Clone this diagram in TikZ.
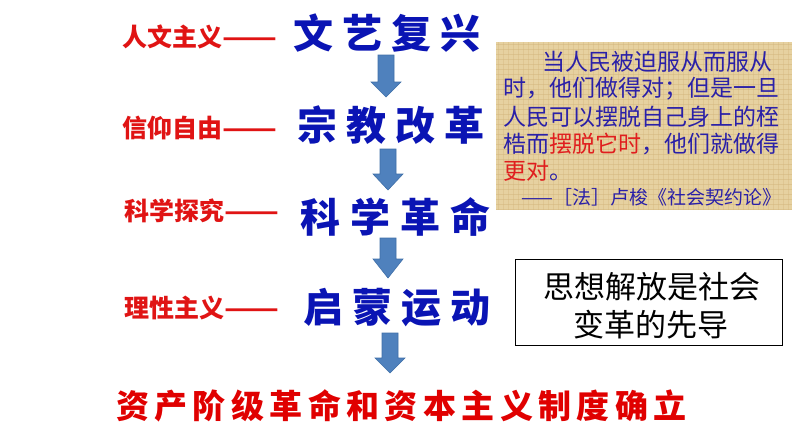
\documentclass[tikz,border=0pt]{standalone}
\usepackage{fontspec}
\usetikzlibrary{calc}
\newfontfamily\cjk{Noto Sans CJK SC}
\definecolor{titleblue}{HTML}{0A14B4}
\definecolor{labelred}{HTML}{E01414}
\definecolor{arrowblue}{HTML}{4F81BD}
\definecolor{arrowedge}{HTML}{3F6FA8}
\definecolor{quoteblue}{HTML}{2A20A8}
\definecolor{quotered}{HTML}{E01E1E}
\definecolor{parch}{HTML}{E6D1A0}
\definecolor{parchline}{HTML}{D2B47A}
\definecolor{bottomred}{HTML}{E00000}
\newcommand{\gp}[1]{\kern#1pt}
\newcommand{\longdash}{\scalebox{1.28}[1]{——}}
\tikzset{
  lbl/.style={anchor=west, inner sep=0pt, text=labelred, font=\cjk\bfseries\fontsize{25}{28}\selectfont},
  ttl/.style={anchor=west, inner sep=0pt, text=titleblue, font=\cjk\bfseries\fontsize{40}{44}\selectfont},
  qline/.style={anchor=west, inner sep=0pt, text=quoteblue, font=\cjk\fontsize{23}{26}\selectfont},
  blockarrow/.style={fill=arrowblue, draw=arrowedge, line width=0.6pt},
  bottomtext/.style={anchor=west, inner sep=0pt, text=bottomred, font=\cjk\bfseries\fontsize{33}{36}\selectfont},
  thesis/.style={draw=black, line width=0.8pt, fill=white},
  thesistext/.style={inner sep=0pt, text=black, font=\cjk\fontsize{31}{36}\selectfont},
}
\newcommand{\barrow}[5]{% cx, top, headstart, tip, name
  \coordinate (#5) at (#1,#2);
  \draw[blockarrow] ($(#5)+(-8,0)$) -- ($(#5)+(8,0)$) -- ($(#5)+(8,#3-#2)$) -- ($(#5)+(15,#3-#2)$)
    -- ($(#5)+(0,#4-#2)$) -- ($(#5)+(-15,#3-#2)$) -- ($(#5)+(-8,#3-#2)$) -- cycle;}
\begin{document}
\begin{tikzpicture}[x=1pt,y=-1pt]
\useasboundingbox (0,0) rectangle (794,447);
\fill[white] (0,0) rectangle (794,447);

% left labels
\node[lbl] (l1) at (122,37) {人文主义\longdash};
\node[lbl] (l2) at (122,128) {信仰自由\longdash};
\node[lbl] (l3) at (124,211) {科学探究\longdash};
\node[lbl] (l4) at (124,308) {理性主义\longdash};

% titles
\node[ttl] (t1) at (293,33) {文\gp{9}艺\gp{9}复\gp{9}兴};
\node[ttl] (t2) at (297,125) {宗\gp{9}教\gp{9}改\gp{9}革};
\node[ttl] (t3) at (300,217) {科\gp{10}学\gp{10}革\gp{10}命};
\node[ttl] (t4) at (303,308) {启\gp{9}蒙\gp{9}运\gp{9}动};

% block arrows
\barrow{386}{55}{82}{97}{a1}
\barrow{388}{149}{174}{190}{a2}
\barrow{388}{238}{259}{278}{a3}
\barrow{390}{333}{358}{373}{a4}

% bottom conclusion
\node[bottomtext] (bot) at (116,406) {资\gp{5.4}产\gp{5.4}阶\gp{5.4}级\gp{5.4}革\gp{5.4}命\gp{5.4}和\gp{5.4}资\gp{5.4}本\gp{5.4}主\gp{5.4}义\gp{5.4}制\gp{5.4}度\gp{5.4}确\gp{5.4}立};

% quote parchment
\fill[parch] (496,42) rectangle (792,210);
\begin{scope}
\clip (496,42) rectangle (792,210);
\foreach \yy in {44,49,...,210} \draw[parchline, line width=0.4pt, opacity=0.45] (496,\yy) -- (792,\yy);
\foreach \xx in {498,503,...,792} \draw[parchline, line width=0.4pt, opacity=0.35] (\xx,42) -- (\xx,210);
\end{scope}
\node[qline] (q1) at (542,62) {当人民被迫服从而服从};
\node[qline] (q2) at (503,89) {时，他们做得对；但是一旦};
\node[qline] (q3) at (503,117) {人民可以摆脱自己身上的桎};
\node[qline] (q4) at (503,144) {梏而\textcolor{quotered}{摆脱它时}，他们就做得};
\node[qline] (q5) at (503,171) {\textcolor{quotered}{更对}。};
\node[qline, anchor=east, font=\cjk\fontsize{19}{22}\selectfont] (q6) at (782,197) {——［法］卢梭《社会契约论》};

% thesis box
\draw[thesis] (515,259) rectangle (782,345);
\node[thesistext] (th1) at (652,287) {思想解放是社会};
\node[thesistext] (th2) at (651,325) {变革的先导};
\end{tikzpicture}
\end{document}
